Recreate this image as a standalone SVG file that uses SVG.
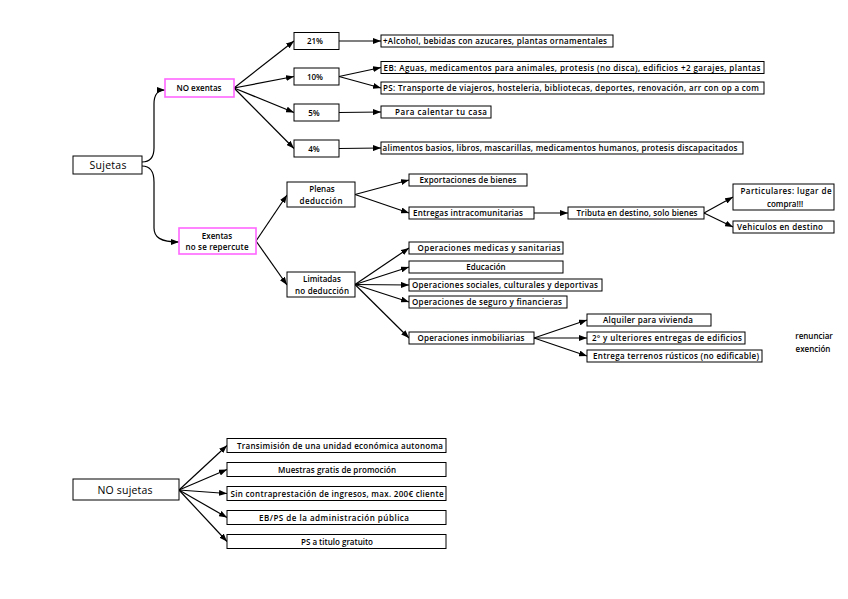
<svg xmlns="http://www.w3.org/2000/svg" width="848" height="599" viewBox="0 0 848 599">
<style>
.box{fill:#fff;stroke:#000;stroke-width:1}
.pink{fill:#fff;stroke:#ff66ff;stroke-width:1.6}
.t{font-family:"Open Sans","Liberation Sans",sans-serif;font-size:8px;font-weight:600;text-anchor:middle;fill:#000}
.big{font-size:10.5px;font-weight:400}
.c{fill:none;stroke:#000;stroke-width:1.2;marker-end:url(#ah)}
</style>
<defs>
<marker id="ah" markerUnits="userSpaceOnUse" markerWidth="8" markerHeight="6" refX="8" refY="3" orient="auto">
<path d="M0,0 L8,3 L0,6 z" fill="#000"/>
</marker>
</defs>
<rect width="848" height="599" fill="#fff"/>
<g id="connectors">
<path class="c" d="M142,162 C150,162 154,157 154,148 L154,104 C154,95 157,90 165,90"/>
<path class="c" d="M142,166 C150,166 154,172 154,182 L154,228 C154,237 160,242 179,242"/>
<path class="c" d="M234,88 L294,41"/>
<path class="c" d="M234,88 L294,76.5"/>
<path class="c" d="M234,88 L294,112.5"/>
<path class="c" d="M234,88 L294,148.5"/>
<path class="c" d="M339,41 L381,41"/>
<path class="c" d="M339,76.5 L381,67.5"/>
<path class="c" d="M339,76.5 L381,88"/>
<path class="c" d="M339,112.5 L381,112"/>
<path class="c" d="M339,148.5 L381,148"/>
<path class="c" d="M256,241 L287,195"/>
<path class="c" d="M256,241 L287,285"/>
<path class="c" d="M355,194.5 L409,180"/>
<path class="c" d="M355,194.5 L409,213"/>
<path class="c" d="M534,213 L568,213"/>
<path class="c" d="M704,213 L733,197"/>
<path class="c" d="M704,213 L733,227"/>
<path class="c" d="M355,284.5 L409,248"/>
<path class="c" d="M355,284.5 L409,267"/>
<path class="c" d="M355,284.5 L409,285"/>
<path class="c" d="M355,284.5 L409,302"/>
<path class="c" d="M355,284.5 L409,338"/>
<path class="c" d="M534,338 L587,320"/>
<path class="c" d="M534,338 L587,338"/>
<path class="c" d="M534,338 L587,356"/>
<path class="c" d="M179,490 L227,445.5"/>
<path class="c" d="M179,490 L227,469.5"/>
<path class="c" d="M179,490 L227,493.5"/>
<path class="c" d="M179,490 L227,517.5"/>
<path class="c" d="M179,490 L227,541.5"/>
</g>
<g id="sujetas"><rect class="box" x="73" y="156" width="69" height="18"/><text class="t big" x="108" y="169" textLength="37" lengthAdjust="spacing">Sujetas</text></g>
<g id="noexentas"><rect class="pink" x="165" y="79" width="69" height="18"/><text class="t" x="199" y="91" textLength="45" lengthAdjust="spacing">NO exentas</text></g>
<g id="p21"><rect class="box" x="294" y="32.5" width="45" height="17"/><text class="t" x="315" y="44">21%</text></g>
<g id="p10"><rect class="box" x="294" y="68" width="45" height="17"/><text class="t" x="315" y="79.5">10%</text></g>
<g id="p5"><rect class="box" x="294" y="104" width="45" height="17"/><text class="t" x="314" y="115.5">5%</text></g>
<g id="p4"><rect class="box" x="294" y="140" width="45" height="17"/><text class="t" x="314" y="151.5">4%</text></g>
<g id="alcohol"><rect class="box" x="381" y="35" width="232" height="12"/><text class="t" x="495" y="44" textLength="224" lengthAdjust="spacing">+Alcohol, bebidas con azucares, plantas ornamentales</text></g>
<g id="eb"><rect class="box" x="381" y="61.5" width="383" height="12"/><text class="t" x="572" y="70.5" textLength="377" lengthAdjust="spacing">EB: Aguas, medicamentos para animales, protesis (no disca), edificios +2 garajes, plantas</text></g>
<g id="ps"><rect class="box" x="381" y="82" width="383" height="12"/><text class="t" x="571" y="91" textLength="376" lengthAdjust="spacing">PS: Transporte de viajeros, hosteleria, bibliotecas, deportes, renovación, arr con op a com</text></g>
<g id="calentar"><rect class="box" x="381" y="106" width="110" height="12"/><text class="t" x="441" y="115" textLength="92" lengthAdjust="spacing">Para calentar tu casa</text></g>
<g id="alimentos"><rect class="box" x="381" y="142" width="362" height="12"/><text class="t" x="560" y="151" textLength="355" lengthAdjust="spacing">alimentos basios, libros, mascarillas, medicamentos humanos, protesis discapacitados</text></g>
<g id="exentas"><rect class="pink" x="179" y="228" width="77" height="26"/><text class="t" x="217" y="238.5">Exentas</text><text class="t" x="217" y="250" textLength="63" lengthAdjust="spacing">no se repercute</text></g>
<g id="plenas"><rect class="box" x="287" y="182" width="68" height="25"/><text class="t" x="322" y="192">Plenas</text><text class="t" x="321" y="203.5" textLength="43" lengthAdjust="spacing">deducción</text></g>
<g id="limitadas"><rect class="box" x="287" y="272" width="68" height="25"/><text class="t" x="322" y="282">Limitadas</text><text class="t" x="322" y="293.5" textLength="54" lengthAdjust="spacing">no deducción</text></g>
<g id="exportaciones"><rect class="box" x="409" y="174" width="118" height="12"/><text class="t" x="468" y="183" textLength="97" lengthAdjust="spacing">Exportaciones de bienes</text></g>
<g id="entregas"><rect class="box" x="409" y="207" width="125" height="12"/><text class="t" x="468" y="216" textLength="110" lengthAdjust="spacing">Entregas intracomunitarias</text></g>
<g id="tributa"><rect class="box" x="568" y="207" width="136" height="12"/><text class="t" x="637" y="216" textLength="121" lengthAdjust="spacing">Tributa en destino, solo bienes</text></g>
<g id="particulares"><rect class="box" x="733" y="184" width="101" height="26"/><text class="t" x="786" y="194" textLength="91" lengthAdjust="spacing">Particulares: lugar de</text><text class="t" x="785" y="206.5">compra!!!</text></g>
<g id="vehiculos"><rect class="box" x="733" y="221" width="101" height="12"/><text class="t" x="780" y="230" textLength="86" lengthAdjust="spacing">Vehiculos en destino</text></g>
<g id="medicas"><rect class="box" x="409" y="242" width="154" height="12"/><text class="t" x="489" y="251" textLength="143" lengthAdjust="spacing">Operaciones medicas y sanitarias</text></g>
<g id="educacion"><rect class="box" x="409" y="261" width="154" height="12"/><text class="t" x="486" y="270">Educación</text></g>
<g id="sociales"><rect class="box" x="409" y="279" width="193" height="12"/><text class="t" x="505" y="288" textLength="186" lengthAdjust="spacing">Operaciones sociales, culturales y deportivas</text></g>
<g id="seguro"><rect class="box" x="409" y="296" width="158" height="12"/><text class="t" x="487" y="305" textLength="150" lengthAdjust="spacing">Operaciones de seguro y financieras</text></g>
<g id="inmobiliarias"><rect class="box" x="409" y="332" width="125" height="12"/><text class="t" x="471" y="341" textLength="107" lengthAdjust="spacing">Operaciones inmobiliarias</text></g>
<g id="alquiler"><rect class="box" x="587" y="314" width="124" height="12"/><text class="t" x="648" y="323" textLength="90" lengthAdjust="spacing">Alquiler para vivienda</text></g>
<g id="ulteriores"><rect class="box" x="587" y="332" width="158" height="12"/><text class="t" x="667" y="341" textLength="150" lengthAdjust="spacing">2º y ulteriores entregas de edificios</text></g>
<g id="terrenos"><rect class="box" x="587" y="350" width="175" height="12"/><text class="t" x="676" y="359" textLength="166" lengthAdjust="spacing">Entrega terrenos rústicos (no edificable)</text></g>
<g id="renunciar"><text class="t" x="814" y="339">renunciar</text><text class="t" x="813" y="352">exención</text></g>
<g id="nosujetas"><rect class="box" x="73" y="479" width="106" height="21"/><text class="t big" x="125" y="493.5" textLength="55" lengthAdjust="spacing">NO sujetas</text></g>
<g id="transmision"><rect class="box" x="227" y="438.5" width="219" height="14"/><text class="t" x="340" y="448.5" textLength="206" lengthAdjust="spacing">Transimisión de una unidad económica autonoma</text></g>
<g id="muestras"><rect class="box" x="227" y="462.5" width="219" height="14"/><text class="t" x="337" y="472.5" textLength="118" lengthAdjust="spacing">Muestras gratis de promoción</text></g>
<g id="contraprestacion"><rect class="box" x="227" y="486.5" width="219" height="14"/><text class="t" x="337" y="496.5" textLength="213" lengthAdjust="spacing">Sin contraprestación de ingresos, max. 200€ cliente</text></g>
<g id="administracion"><rect class="box" x="227" y="510.5" width="219" height="14"/><text class="t" x="334" y="520.5" textLength="150" lengthAdjust="spacing">EB/PS de la administración pública</text></g>
<g id="gratuito"><rect class="box" x="227" y="534.5" width="219" height="14"/><text class="t" x="337" y="544.5">PS a titulo gratuito</text></g>
</svg>
